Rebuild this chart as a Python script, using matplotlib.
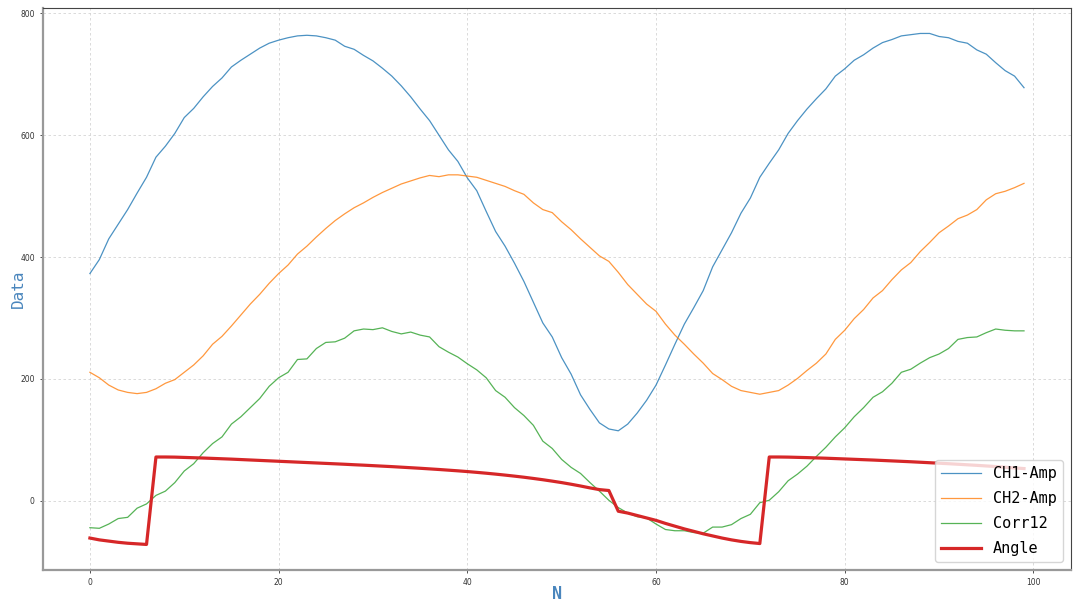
import matplotlib
matplotlib.use("Agg")
import matplotlib.pyplot as plt

# values, one per sample N = 0..99
ch1_amp = [373, 396, 430, 454, 478, 505, 531, 564, 582, 603,
           629, 644, 663, 680, 694, 712, 723, 733, 743, 751,
           756, 760, 763, 764, 763, 760, 756, 746, 741, 731,
           722, 710, 697, 681, 663, 643, 624, 600, 576, 557,
           530, 509, 475, 442, 418, 390, 360, 326, 292, 269,
           235, 208, 174, 150, 128, 118, 115, 126, 144, 165,
           190, 223, 257, 290, 317, 345, 384, 412, 440, 472,
           497, 531, 554, 576, 603, 624, 643, 660, 676, 697,
           709, 723, 732, 743, 752, 757, 763, 765, 767, 767,
           762, 760, 754, 751, 740, 733, 719, 706, 697, 678]

ch2_amp = [211, 202, 190, 182, 178, 176, 178, 184, 193, 199,
           211, 223, 238, 257, 270, 287, 305, 323, 339, 357,
           373, 387, 405, 418, 433, 447, 460, 471, 481, 489,
           498, 506, 513, 520, 525, 530, 534, 532, 535, 535,
           533, 531, 526, 521, 516, 509, 503, 489, 478, 473,
           458, 445, 430, 416, 402, 393, 375, 355, 339, 323,
           311, 290, 272, 257, 241, 226, 209, 199, 188, 181,
           178, 175, 178, 181, 190, 201, 214, 226, 241, 265,
           280, 299, 314, 333, 345, 363, 379, 391, 409, 424,
           440, 451, 463, 469, 478, 494, 504, 508, 514, 521]

corr12 = [-44, -45, -38, -29, -27, -12, -5, 9, 16, 30,
          49, 61, 79, 94, 105, 126, 138, 153, 168, 188,
          202, 211, 232, 233, 250, 260, 261, 267, 279, 282,
          281, 284, 278, 274, 277, 272, 269, 253, 244, 236,
          225, 215, 202, 181, 170, 153, 140, 124, 98, 86,
          68, 55, 45, 30, 16, 1, -11, -20, -26, -28,
          -38, -47, -49, -49, -52, -53, -43, -43, -39, -29,
          -22, -3, 1, 15, 33, 44, 57, 73, 88, 105,
          120, 138, 153, 170, 179, 193, 211, 216, 226, 235,
          241, 250, 265, 268, 269, 276, 282, 280, 279, 279]

angle = [-61, -64, -66, -68, -69.5, -70.5, -71.5, 72, 72, 71.8,
         71.3, 70.8, 70.3, 69.7, 69.1, 68.5, 67.8, 67.1, 66.4, 65.7,
         65, 64.3, 63.6, 62.9, 62.2, 61.5, 60.8, 60.1, 59.3, 58.6,
         57.8, 57, 56.2, 55.3, 54.4, 53.5, 52.5, 51.5, 50.4, 49.3,
         48.1, 46.8, 45.4, 43.9, 42.3, 40.6, 38.8, 36.8, 34.7, 32.4,
         30, 27.3, 24.4, 21.3, 18.5, 17, -17, -20, -24, -28,
         -32, -37, -41.5, -46, -50, -54, -57.5, -61, -64, -66.5,
         -68.5, -70, 72, 72, 71.8, 71.4, 71, 70.5, 70, 69.4,
         68.8, 68.2, 67.6, 67, 66.3, 65.6, 64.9, 64.2, 63.4, 62.6,
         61.8, 61, 60.1, 59.2, 58.3, 57.3, 56.3, 55.2, 54.1, 53]

n = list(range(len(ch1_amp)))

fig = plt.figure(figsize=(10.8, 6.08), dpi=100)
ax = fig.add_axes([0.04, 0.0625, 0.9514, 0.9245])

ax.plot(n, ch1_amp, color="tab:blue", lw=0.9, alpha=0.8, label="CH1-Amp")
ax.plot(n, ch2_amp, color="tab:orange", lw=0.9, alpha=0.8, label="CH2-Amp")
ax.plot(n, corr12, color="tab:green", lw=0.9, alpha=0.8, label="Corr12")
ax.plot(n, angle, color="tab:red", lw=2.3, label="Angle")

ax.grid(True, linestyle=(0, (3, 3)), color="#d4d4d4", linewidth=0.6)
ax.tick_params(labelsize=5.5, length=2.5, width=0.6, colors="#333333")
ax.set_xticks([0, 20, 40, 60, 80, 100])
ax.set_yticks([0, 200, 400, 600, 800])

for side in ["left", "bottom"]:
    ax.spines[side].set_color("#999999")
    ax.spines[side].set_linewidth(1.6)
for side in ["top", "right"]:
    ax.spines[side].set_color("#444444")
    ax.spines[side].set_linewidth(0.8)

ax.set_xlabel("N", color="#4a86bd", fontsize=12, family="DejaVu Sans Mono",
              fontweight="bold", labelpad=-2)
ax.set_ylabel("Data", color="#4a86bd", fontsize=11.5, family="DejaVu Sans Mono",
              labelpad=-4)

ax.legend(loc="lower right", prop={"family": "DejaVu Sans Mono", "size": 11},
          handlelength=2.6, labelspacing=0.65, borderaxespad=0.5)

fig.savefig("out.png", dpi=100)
